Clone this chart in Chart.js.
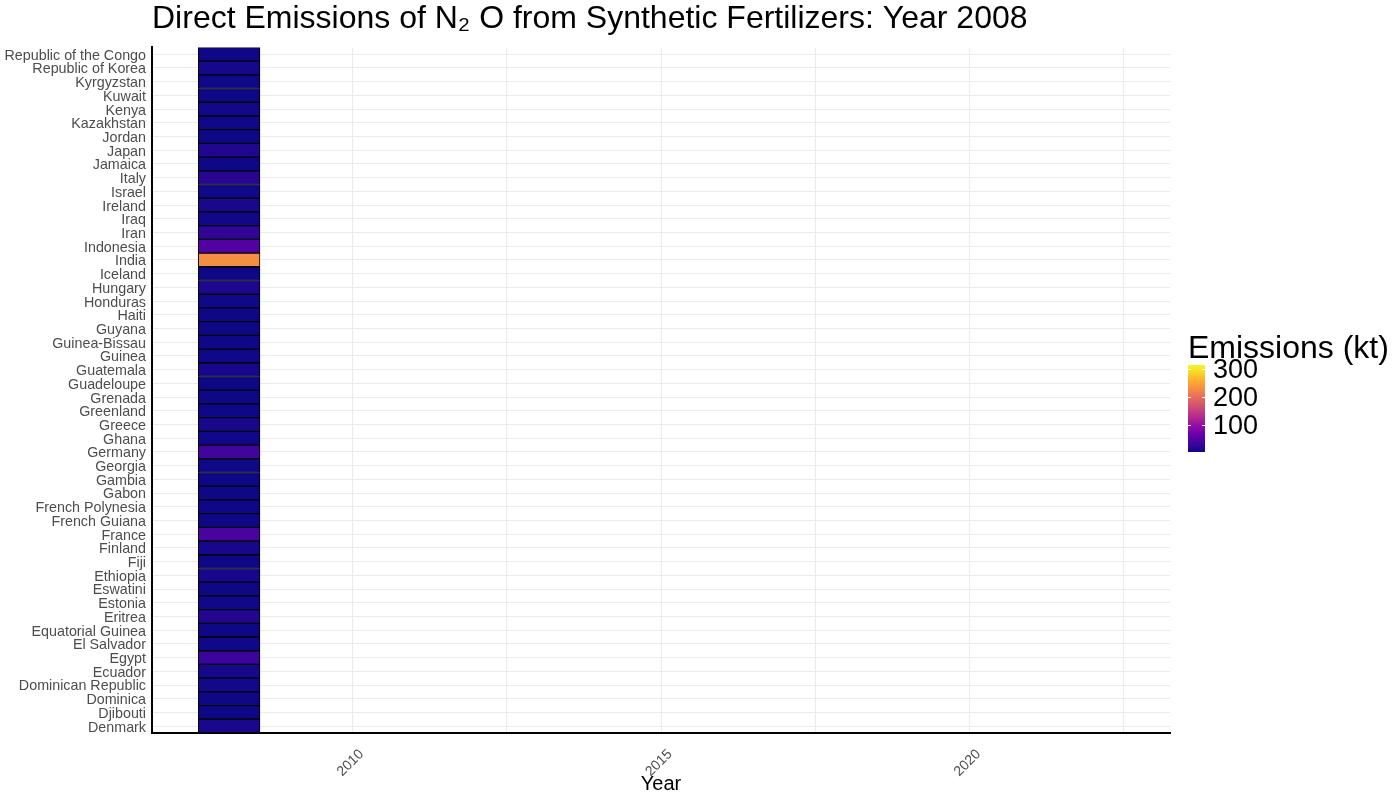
<!DOCTYPE html>
<html>
<head>
<meta charset="utf-8">
<script src="https://cdn.jsdelivr.net/npm/chart.js@4.4.1/dist/chart.umd.min.js"></script>
<style>
  body { margin: 0; background: #fff; font-family: "Liberation Sans", Arial, sans-serif; }
  #wrap { position: relative; width: 1400px; height: 800px; }
  #legend-title { position: absolute; left: 1188px; top: 331px; font-size: 32px; line-height: 1; color: #000; white-space: nowrap; }
  #legend-bar { position: absolute; left: 1188px; width: 17px; }
  .lg-tick { position: absolute; height: 1px; width: 3px; background: #fff; }
  .lg-label { position: absolute; left: 1213px; font-size: 27px; line-height: 1; color: #000; }
</style>
</head>
<body>
<div id="wrap">
  <canvas id="chart" width="1400" height="800"></canvas>
  <div id="legend-title">Emissions (kt)</div>
  <div id="legend-bar"></div>
</div>
<script>
// 국가 (위에서 아래 순서)
const countries = [
  "Republic of the Congo", "Republic of Korea", "Kyrgyzstan", "Kuwait", "Kenya",
  "Kazakhstan", "Jordan", "Japan", "Jamaica", "Italy",
  "Israel", "Ireland", "Iraq", "Iran", "Indonesia",
  "India", "Iceland", "Hungary", "Honduras", "Haiti",
  "Guyana", "Guinea-Bissau", "Guinea", "Guatemala", "Guadeloupe",
  "Grenada", "Greenland", "Greece", "Ghana", "Germany",
  "Georgia", "Gambia", "Gabon", "French Polynesia", "French Guiana",
  "France", "Finland", "Fiji", "Ethiopia", "Eswatini",
  "Estonia", "Eritrea", "Equatorial Guinea", "El Salvador", "Egypt",
  "Ecuador", "Dominican Republic", "Dominica", "Djibouti", "Denmark"
];

// 배출량 (kt), 2008
const emissions = [
  4, 9, 5, 4, 7,
  6, 4, 15, 4, 19,
  5, 11, 6, 25, 47,
  230, 4, 14, 6, 4,
  4, 4, 5, 10, 4,
  4, 4, 11, 6, 35,
  5, 4, 4, 4, 4,
  41, 9, 4, 10, 4,
  6, 16, 4, 6, 30,
  9, 7, 4, 4, 11
];

const year = 2008;

// x축 눈금, 색상 범위
const xGridValues = [2007.5, 2010, 2012.5, 2015, 2017.5, 2020, 2022.5];
const xMin = 2006.75;
const xMax = 2023.25;
const colorMin = 3.6;
const colorMax = 314;
const legendTicks = [100, 200, 300];

// plasma 팔레트
const plasma = ["#0D0887", "#41049D", "#6A00A8", "#8F0DA4", "#B12A90", "#CC4778",
                "#E16462", "#F2844B", "#FCA636", "#FCCE25", "#F0F921"];

function hexToRgb(h) {
  return [parseInt(h.slice(1, 3), 16), parseInt(h.slice(3, 5), 16), parseInt(h.slice(5, 7), 16)];
}

function plasmaColor(v) {
  let t = (v - colorMin) / (colorMax - colorMin);
  t = Math.max(0, Math.min(1, t));
  const pos = t * (plasma.length - 1);
  const i = Math.min(Math.floor(pos), plasma.length - 2);
  const f = pos - i;
  const a = hexToRgb(plasma[i]);
  const b = hexToRgb(plasma[i + 1]);
  const c = a.map((x, k) => Math.round(x + (b[k] - x) * f));
  return `rgb(${c[0]},${c[1]},${c[2]})`;
}

Chart.defaults.font.family = '"Liberation Sans", Arial, sans-serif';

const ctx = document.getElementById("chart");

const config = {
  type: 'bar',
  data: {
    labels: countries,
    datasets: [{
      data: emissions.map(() => [year - 0.5, year + 0.5]),
      backgroundColor: emissions.map(plasmaColor),
      borderColor: '#000',
      borderWidth: 1,
      borderSkipped: false,
      barPercentage: 1,
      categoryPercentage: 1
    }]
  },
  options: {
    indexAxis: 'y',
    responsive: false,
    animation: false,
    layout: {
      padding: { left: 0, right: 230, top: 0, bottom: 0 }
    },
    plugins: {
      legend: { display: false },
      tooltip: { enabled: false },
      title: {
        display: true,
        text: 'Direct Emissions of N\u2082 O from Synthetic Fertilizers: Year 2008',
        align: 'start',
        fullSize: false,
        color: '#000',
        font: { size: 32, weight: 'normal' },
        padding: { top: 0, bottom: 9 }
      }
    },
    scales: {
      x: {
        type: 'linear',
        min: xMin,
        max: xMax,
        afterBuildTicks: axis => {
          axis.ticks = xGridValues.map(v => ({ value: v }));
        },
        afterFit: scale => { scale.height = 67; },
        grid: { color: '#EBEBEB', drawTicks: false },
        border: { color: '#000', width: 2 },
        ticks: {
          autoSkip: false,
          minRotation: 45,
          maxRotation: 45,
          labelOffset: 9,
          padding: 13,
          color: '#4D4D4D',
          font: { size: 14 },
          callback: v => (v % 5 === 0 ? String(v) : '')
        },
        title: {
          display: true,
          text: 'Year',
          color: '#000',
          font: { size: 20 },
          padding: { top: 0, bottom: 4 }
        }
      },
      y: {
        afterFit: scale => { scale.width = 152; },
        grid: { color: '#EBEBEB', offset: false, drawTicks: false },
        border: { color: '#000', width: 2 },
        ticks: {
          autoSkip: false,
          color: '#4D4D4D',
          font: { size: 14.3 },
          padding: 6,
          labelOffset: 1.5
        }
      }
    }
  }
};

const emissionChart = new Chart(ctx, config);

// 컬러바 범례
const barTop = 365;
const barBottom = 452;
const legendBar = document.getElementById("legend-bar");
legendBar.style.top = barTop + "px";
legendBar.style.height = (barBottom - barTop) + "px";
legendBar.style.background = "linear-gradient(to top, " + plasma.join(", ") + ")";

const wrap = document.getElementById("wrap");
legendTicks.forEach(t => {
  const y = barBottom - (t - colorMin) / (colorMax - colorMin) * (barBottom - barTop);

  [1188, 1202].forEach(x => {
    const tick = document.createElement("div");
    tick.className = "lg-tick";
    tick.style.left = x + "px";
    tick.style.top = Math.round(y) + "px";
    wrap.appendChild(tick);
  });

  const label = document.createElement("div");
  label.className = "lg-label";
  label.textContent = t;
  label.style.top = Math.round(y - 13) + "px";
  wrap.appendChild(label);
});
</script>
</body>
</html>
